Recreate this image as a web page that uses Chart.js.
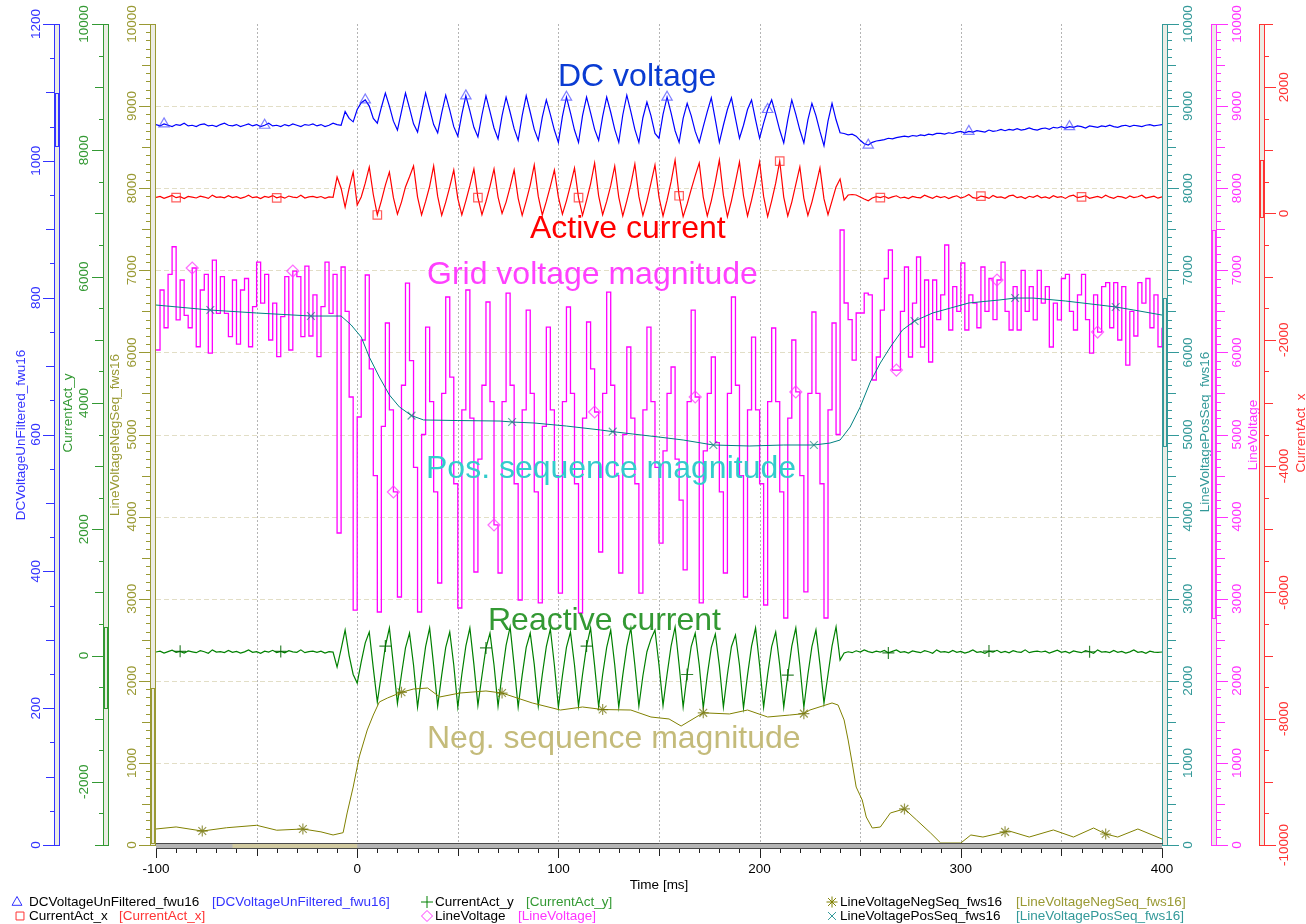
<!DOCTYPE html>
<html>
<head>
<meta charset="utf-8">
<title>Scope recording</title>
<script src="https://cdn.jsdelivr.net/npm/chart.js@4.4.1/dist/chart.umd.min.js"></script>
<style>
  html, body { margin: 0; padding: 0; background: #fff; }
  canvas { display: block; }
</style>
</head>
<body>
<canvas id="scope" width="1306" height="924"></canvas>
<script>
// recorder sample clock, 2 ms
const timeMs = [];
for (let t = -100; t <= 400; t += 2) timeMs.push(t);

// DCVoltageUnFiltered_fwu16 [V]
const dcVoltage = [
  1053,1051,1054,1052,1050,1053,1052,1055,1051,1052,
  1050,1053,1054,1051,1052,1050,1053,1055,1052,1051,
  1053,1050,1052,1054,1051,1053,1050,1052,1055,1051,
  1052,1050,1053,1051,1054,1052,1050,1053,1052,1054,
  1051,1053,1050,1052,1055,1053,1052,1072,1062,1057,
  1075,1085,1089,1080,1062,1055,1078,1099,1080,1058,
  1045,1072,1099,1077,1054,1042,1071,1099,1076,1053,
  1041,1070,1096,1074,1050,1036,1068,1095,1073,1049,
  1035,1067,1095,1072,1048,1032,1066,1093,1071,1047,
  1030,1066,1095,1071,1046,1030,1064,1089,1068,1045,
  1027,1065,1093,1070,1045,1027,1066,1093,1070,1046,
  1030,1065,1093,1071,1046,1027,1067,1096,1072,1046,
  1027,1063,1086,1066,1040,1033,1068,1093,1070,1044,
  1027,1062,1084,1066,1043,1027,1050,1072,1092,1060,
  1027,1052,1075,1092,1062,1033,1052,1075,1089,1060,
  1033,1055,1075,1089,1068,1045,1026,1060,1089,1068,
  1045,1026,1060,1084,1066,1043,1022,1058,1084,1060,
  1041,1040,1038,1039,1036,1030,1025,1023,1027,1029,
  1030,1031,1033,1032,1034,1035,1036,1035,1037,1036,
  1038,1037,1039,1038,1040,1040,1039,1041,1040,1042,
  1043,1041,1043,1042,1044,1043,1042,1045,1043,1044,
  1046,1044,1046,1045,1047,1045,1046,1048,1046,1045,
  1047,1048,1046,1049,1048,1050,1048,1050,1049,1051,
  1050,1048,1051,1050,1049,1051,1050,1052,1050,1049,
  1051,1052,1050,1052,1051,1050,1052,1053,1051,1052,
  1053
];

// CurrentAct_x (active current)
const currentActX = [
  255,270,240,262,285,250,265,235,270,258,
  245,275,260,238,290,255,262,248,280,252,
  266,240,258,288,250,262,236,270,255,283,
  248,265,242,276,258,250,290,245,262,270,
  250,268,240,262,255,577,400,102,400,656,
  134,261,480,735,300,-24,200,450,656,250,
  -10,180,420,580,751,260,-24,190,430,751,
  270,-30,180,420,688,240,-24,200,440,704,
  250,-20,190,430,704,260,0,180,420,688,
  240,-30,200,450,767,270,-24,190,430,688,
  260,-10,200,450,720,250,-30,210,470,799,
  280,-20,190,440,751,260,-40,200,460,783,
  270,-30,200,480,767,260,-40,210,500,846,
  280,-50,150,380,600,799,260,-40,200,500,
  846,290,-50,200,500,815,280,-40,210,500,
  815,270,-50,200,480,830,260,-40,180,460,
  736,240,-30,180,440,720,230,-20,200,420,
  546,213,292,300,292,262,230,200,245,265,
  250,272,240,262,280,245,258,236,270,255,
  248,290,262,240,275,250,268,235,262,280,
  245,265,300,250,240,275,262,238,285,255,
  262,240,278,290,250,265,236,272,255,285,
  248,262,240,280,256,268,238,275,290,250,
  262,280,240,255,270,246,288,258,240,272,
  262,238,276,250,265,290,245,260,275,242,
  262
];

// CurrentAct_y (reactive current)
const currentActY = [
  56,70,40,62,85,50,66,38,72,58,
  45,78,60,36,90,55,62,48,80,52,
  66,40,58,88,50,62,36,70,55,83,
  48,65,42,76,58,50,90,45,62,70,
  50,68,40,62,55,-182,100,404,0,-300,
  -435,-100,200,372,-200,-736,-300,150,436,-150,
  -760,-300,120,356,-150,-815,-320,140,436,-160,
  -800,-310,130,372,-150,-815,-300,150,436,-140,
  -790,-320,120,356,-150,-800,-300,160,452,-160,
  -815,-310,130,356,-140,-800,-300,140,420,-150,
  -815,-320,130,372,-150,-800,-300,150,436,-160,
  -810,-300,130,404,-150,-815,-310,140,436,-150,
  -800,-320,60,260,404,-150,-790,-300,150,452,
  -150,-815,-300,140,356,-150,-831,-310,130,340,
  -160,-815,-300,140,325,-150,-831,-310,150,436,
  -150,-820,-300,140,372,-150,-815,-310,150,436,
  -150,-820,-300,140,404,-140,-752,-300,150,452,
  -71,40,60,45,75,55,90,62,48,70,
  56,80,42,66,88,50,62,38,72,58,
  45,78,60,36,90,55,62,48,80,52,
  66,40,58,88,50,62,36,70,55,83,
  48,65,42,76,58,50,90,45,62,70,
  56,70,40,62,85,50,66,38,72,58,
  45,78,60,36,90,55,62,48,80,52,
  66,40,58,88,50,62,36,70,55,50,
  56
];

// LineVoltage (grid voltage magnitude)
const lineVoltage = [
  6029,6760,6300,6950,7287,6395,6882,6450,6300,7028,
  6069,6760,6950,5990,7125,6476,6922,6476,6191,6882,
  6100,6760,6900,6069,6557,7100,6600,6950,6151,6600,
  5948,6435,6922,6029,6991,6922,6191,7050,6200,6700,
  5948,6557,7100,6476,6950,3800,7040,6500,5457,2862,
  5213,6151,6943,5800,4500,2838,5100,6358,5300,4300,
  3021,5600,6845,5900,4600,2838,5000,6309,5400,4300,
  3191,5500,6675,5700,4400,2887,5300,6760,5200,3325,
  4700,5600,6614,5400,3898,3313,5400,6723,5600,4400,
  2984,5300,6516,5500,4300,2948,5100,6309,5300,4500,
  3069,5400,6553,5500,4400,2826,5200,6370,5800,5274,
  3569,5500,6735,5600,4500,3313,5000,6066,5200,4400,
  3069,5300,6309,5400,4600,3678,4800,5500,5822,4700,
  4200,3350,5400,6516,5457,2948,4800,5500,5944,4900,
  4300,3313,5500,6675,5600,4500,3021,5300,6187,5300,
  4400,2923,5400,6297,5400,4300,2765,5200,6151,5518,
  4500,3082,5500,6492,5500,4400,2765,5300,6358,5000,
  7491,6602,6400,5907,6480,6480,6723,6700,5664,5944,
  6516,6900,7247,5785,5785,6500,7040,5944,6600,7162,
  6066,6882,5883,6882,6400,6700,7308,6273,6800,6500,
  7089,6273,6700,6602,6300,7040,6500,6900,6400,6882,
  7100,6500,6273,6800,6273,7000,6500,6800,6395,7000,
  6600,6800,6066,6600,6395,6900,6950,6500,6273,6700,
  6950,6400,5992,6700,6248,6800,6850,6300,6850,6151,
  6800,5846,6500,6200,6850,6600,6900,6300,6700,6069,
  6300
];

// LineVoltagePosSeq_fws16
const posSeqTime = [-100,-73,-50,-23,-8,-3,2,6,11,16,21,27,33,50,71,77,88,104,121,127,137,150,162,177,195,212,227,235,240,245,250,255,260,265,271,277,286,295,304,319,327,336,352,369,377,386,400];
const posSeq = [6577,6516,6480,6443,6443,6334,6187,5944,5700,5481,5335,5230,5177,5170,5164,5152,5140,5103,5055,5035,5006,4969,4933,4872,4860,4872,4872,4896,4933,5091,5335,5639,5871,6066,6273,6382,6480,6541,6602,6638,6662,6662,6626,6577,6553,6516,6455];

// LineVoltageNegSeq_fws16
const negSeqTime = [-100,-90,-77,-65,-50,-40,-27,-18,-12,-7,-5,-2,1,5,8,11,15,22,28,35,41,51,64,72,87,101,112,122,136,146,155,161,172,185,194,204,215,222,225,236,239,242,244,246,248,251,253,256,260,265,272,278,285,290,300,305,311,322,324,334,346,356,366,372,378,388,400];
const negSeq = [195,220,170,210,240,180,195,160,122,150,390,706,1072,1401,1583,1742,1790,1860,1900,1912,1803,1851,1876,1851,1730,1644,1681,1650,1644,1559,1535,1449,1610,1596,1644,1559,1583,1600,1644,1730,1705,1523,1279,999,706,548,341,207,219,390,440,305,146,24,24,122,97,160,171,97,183,97,207,134,97,195,73];

// marker positions [ms]
const markDc = [-96, -46, 4, 54, 104, 154, 204, 254, 304, 354];
const markIx = [-90, -40, 10, 60, 110, 160, 210, 260, 310, 360];
const markIy = [-88, -38, 14, 64, 114, 164, 214, 264, 314, 364];
const markLv = [-82, -32, 18, 68, 118, 168, 218, 268, 318, 368];
const markNeg = [-77, -27, 22, 72, 122, 172, 222, 272, 322, 372];
const markPos = [-73, -23, 27, 77, 127, 177, 227, 277, 327, 377];

const xTicks = [-100, 0, 100, 200, 300, 400];

const TICK_FONT = '13.5px "Liberation Sans", Arial, sans-serif';
const NOTE_FONT = '32px "Liberation Sans", Arial, sans-serif';

const yAxes = [
  { id: 'yDc', side: 'left', x: 54, color: '#3333ff', minor: 50, mid: 100, major: 200, labelX: 36.5, titleX: 21, titleY: 435, title: 'DCVoltageUnFiltered_fwu16', data: dcVoltage },
  { id: 'yIy', side: 'left', x: 103, color: '#339933', minor: 500, mid: 1000, major: 2000, labelX: 84, titleX: 68, titleY: 413, title: 'CurrentAct_y', data: currentActY },
  { id: 'yNeg', side: 'left', x: 150, color: '#999933', minor: 100, mid: 500, major: 1000, labelX: 132.5, titleX: 115, titleY: 435, title: 'LineVoltageNegSeq_fws16', data: negSeq },
  { id: 'yPos', side: 'right', x: 1162, color: '#339999', minor: 100, mid: 500, major: 1000, labelX: 1188, titleX: 1205, titleY: 432, title: 'LineVoltagePosSeq_fws16', data: posSeq },
  { id: 'yLv', side: 'right', x: 1211, color: '#ff33ff', minor: 100, mid: 500, major: 1000, labelX: 1237, titleX: 1253, titleY: 435, title: 'LineVoltage', data: lineVoltage },
  { id: 'yIx', side: 'right', x: 1259, color: '#ff3333', minor: 500, mid: 1000, major: 2000, labelX: 1284.5, titleX: 1301, titleY: 433, title: 'CurrentAct_x', data: currentActX }
];

const notes = [
  { text: 'DC voltage', x: 558, y: 86, color: '#0a3cd2' },
  { text: 'Active current', x: 530, y: 238, color: '#ff0000' },
  { text: 'Grid voltage magnitude', x: 427, y: 284, color: '#ff40ff' },
  { text: 'Pos. sequence magnitude', x: 426, y: 478, color: '#33cccc' },
  { text: 'Reactive current', x: 488, y: 630, color: '#339933' },
  { text: 'Neg. sequence magnitude', x: 427, y: 748, color: '#c4bb7a' }
];

const legendItems = [
  { style: 'triangle', mark: '#3333ff', name: 'DCVoltageUnFiltered_fwu16', x: 17, y: 902, tx: 29, bx: 212, color: '#3333ff' },
  { style: 'cross', mark: '#008000', name: 'CurrentAct_y', x: 427, y: 902, tx: 435, bx: 526, color: '#339933' },
  { style: 'star', mark: '#808000', name: 'LineVoltageNegSeq_fws16', x: 832, y: 902, tx: 840, bx: 1016, color: '#999933' },
  { style: 'rect', mark: '#ff3333', name: 'CurrentAct_x', x: 20, y: 916, tx: 29, bx: 119, color: '#ff3333' },
  { style: 'rectRot', mark: '#ff33ff', name: 'LineVoltage', x: 427, y: 916, tx: 435, bx: 518, color: '#ff33ff' },
  { style: 'crossRot', mark: '#339999', name: 'LineVoltagePosSeq_fws16', x: 832, y: 916, tx: 840, bx: 1016, color: '#339999' }
];

function series(times, values) {
  return times.map((t, i) => ({ x: t, y: values[i] }));
}

function markAt(list, r) {
  return (ctx) => (ctx.raw && list.includes(ctx.raw.x)) ? r : 0;
}

function rotText(ctx, text, x, y) {
  ctx.save();
  ctx.translate(x, y);
  ctx.rotate(-Math.PI / 2);
  ctx.fillText(text, 0, 0);
  ctx.restore();
}

function drawMark(ctx, style, x, y, r) {
  const d = r * 0.72;
  ctx.beginPath();
  if (style === 'triangle') {
    ctx.moveTo(x, y - r); ctx.lineTo(x + r * 0.9, y + r * 0.6); ctx.lineTo(x - r * 0.9, y + r * 0.6); ctx.closePath();
  } else if (style === 'rect') {
    ctx.rect(x - d, y - d, 2 * d, 2 * d);
  } else if (style === 'rectRot') {
    ctx.moveTo(x, y - r); ctx.lineTo(x + r, y); ctx.lineTo(x, y + r); ctx.lineTo(x - r, y); ctx.closePath();
  } else {
    if (style !== 'crossRot') {
      ctx.moveTo(x - r, y); ctx.lineTo(x + r, y); ctx.moveTo(x, y - r); ctx.lineTo(x, y + r);
    }
    if (style !== 'cross') {
      ctx.moveTo(x - d, y - d); ctx.lineTo(x + d, y + d); ctx.moveTo(x + d, y - d); ctx.lineTo(x - d, y + d);
    }
  }
  ctx.stroke();
}

function drawYAxis(ctx, chart, ax) {
  const sc = chart.scales[ax.id];
  const top = chart.chartArea.top, bottom = chart.chartArea.bottom;
  const dir = ax.side === 'left' ? -1 : 1;
  const edge = ax.side === 'left' ? ax.x : ax.x + 6;
  ctx.save();
  ctx.fillStyle = '#ececE4';
  ctx.fillRect(ax.x, top, 6, bottom - top);
  ctx.strokeStyle = ax.color;
  ctx.lineWidth = 1;
  ctx.strokeRect(ax.x + 0.5, top + 0.5, 5, bottom - top);
  // data range indicator
  const yHi = Math.round(sc.getPixelForValue(Math.max(...ax.data)));
  const yLo = Math.round(sc.getPixelForValue(Math.min(...ax.data)));
  ctx.strokeRect(ax.x + 1.5, yHi + 0.5, 3, yLo - yHi);
  ctx.beginPath();
  for (let v = Math.ceil(sc.min / ax.minor) * ax.minor; v <= sc.max; v += ax.minor) {
    const y = Math.round(sc.getPixelForValue(v)) + 0.5;
    const len = v % ax.major === 0 ? 11 : (v % ax.mid === 0 ? 8 : 4);
    ctx.moveTo(edge, y);
    ctx.lineTo(edge + dir * len, y);
  }
  ctx.stroke();
  ctx.fillStyle = ax.color;
  ctx.font = TICK_FONT;
  ctx.textAlign = 'center';
  ctx.textBaseline = 'middle';
  for (let v = Math.ceil(sc.min / ax.major) * ax.major; v <= sc.max; v += ax.major) {
    rotText(ctx, String(v), ax.labelX, sc.getPixelForValue(v));
  }
  rotText(ctx, ax.title, ax.titleX, ax.titleY);
  ctx.restore();
}

function drawXAxis(ctx, chart) {
  const xs = chart.scales.x;
  const { left, right, bottom } = chart.chartArea;
  ctx.save();
  ctx.fillStyle = '#b4b4b4';
  ctx.fillRect(left, bottom - 2, right - left, 6);
  ctx.fillStyle = '#d0c9a0';
  ctx.fillRect(xs.getPixelForValue(-62), bottom - 1, xs.getPixelForValue(0) - xs.getPixelForValue(-62), 4);
  ctx.strokeStyle = '#4a4a4a';
  ctx.lineWidth = 1;
  ctx.beginPath();
  ctx.moveTo(left, bottom - 1.5); ctx.lineTo(right + 1, bottom - 1.5);
  ctx.moveTo(left, bottom + 3.5); ctx.lineTo(right + 1, bottom + 3.5);
  ctx.stroke();
  ctx.strokeStyle = '#222';
  ctx.beginPath();
  for (let t = xs.min; t <= xs.max; t += 10) {
    const x = Math.round(xs.getPixelForValue(t)) + 0.5;
    const len = t % 100 === 0 ? 9 : (t % 50 === 0 ? 7 : 4);
    ctx.moveTo(x, bottom + 4);
    ctx.lineTo(x, bottom + 4 + len);
  }
  ctx.stroke();
  ctx.fillStyle = '#000';
  ctx.font = TICK_FONT;
  ctx.textAlign = 'center';
  ctx.textBaseline = 'middle';
  xTicks.forEach(t => ctx.fillText(String(t), xs.getPixelForValue(t), 869));
  ctx.fillText('Time [ms]', (left + right) / 2, 885);
  ctx.restore();
}

function drawLegend(ctx) {
  ctx.save();
  ctx.font = TICK_FONT;
  ctx.textBaseline = 'middle';
  ctx.textAlign = 'left';
  ctx.lineWidth = 1;
  legendItems.forEach(it => {
    ctx.strokeStyle = it.mark;
    drawMark(ctx, it.style, it.x, it.y, it.style === 'cross' ? 6 : 5.5);
    ctx.fillStyle = '#000';
    ctx.fillText(it.name, it.tx, it.y);
    ctx.fillStyle = it.color;
    ctx.fillText('[' + it.name + ']', it.bx, it.y);
  });
  ctx.restore();
}

const scopeFrame = {
  id: 'scopeFrame',
  beforeDatasetsDraw(chart) {
    const ctx = chart.ctx;
    const { left, right, top, bottom } = chart.chartArea;
    const xs = chart.scales.x, yg = chart.scales.yNeg;
    ctx.save();
    ctx.lineWidth = 1;
    ctx.strokeStyle = '#e2dec6';
    ctx.setLineDash([5, 3]);
    ctx.beginPath();
    for (let v = 1000; v < 10000; v += 1000) {
      const y = Math.round(yg.getPixelForValue(v)) + 0.5;
      ctx.moveTo(left, y); ctx.lineTo(right, y);
    }
    ctx.stroke();
    ctx.strokeStyle = '#b4b4b4';
    ctx.setLineDash([2, 2]);
    ctx.beginPath();
    for (let t = -50; t < 400; t += 50) {
      const x = Math.round(xs.getPixelForValue(t)) + 0.5;
      ctx.moveTo(x, top); ctx.lineTo(x, bottom - 2);
    }
    ctx.stroke();
    ctx.restore();
  },
  afterDatasetsDraw(chart) {
    const ctx = chart.ctx;
    ctx.save();
    ctx.font = NOTE_FONT;
    ctx.textAlign = 'left';
    ctx.textBaseline = 'alphabetic';
    notes.forEach(n => { ctx.fillStyle = n.color; ctx.fillText(n.text, n.x, n.y); });
    ctx.restore();
    yAxes.forEach(ax => drawYAxis(ctx, chart, ax));
    drawXAxis(ctx, chart);
    drawLegend(ctx);
  }
};

function trace(label, data, axis, color, markColor, style, marks, stepped, r, width) {
  return {
    label: label,
    data: data,
    yAxisID: axis,
    borderColor: color,
    borderWidth: width || 1,
    stepped: stepped,
    tension: 0,
    pointStyle: style,
    pointRadius: markAt(marks, r || 5.5),
    pointHoverRadius: 0,
    pointBorderColor: markColor,
    pointBackgroundColor: 'rgba(0,0,0,0)',
    pointBorderWidth: 1.2
  };
}

const datasets = [
  trace('LineVoltagePosSeq_fws16', series(posSeqTime, posSeq), 'yPos', '#008080', 'rgba(0,110,110,0.6)', 'crossRot', markPos, false),
  trace('LineVoltageNegSeq_fws16', series(negSeqTime, negSeq), 'yNeg', '#808000', 'rgba(110,110,0,0.7)', 'star', markNeg, false),
  trace('DCVoltageUnFiltered_fwu16', series(timeMs, dcVoltage), 'yDc', '#0000ff', 'rgba(60,60,255,0.65)', 'triangle', markDc, false, 6, 1.2),
  trace('CurrentAct_x', series(timeMs, currentActX), 'yIx', '#ff0000', 'rgba(255,40,40,0.75)', 'rect', markIx, false, 6, 1.2),
  trace('CurrentAct_y', series(timeMs, currentActY), 'yIy', '#008000', 'rgba(0,100,0,0.8)', 'cross', markIy, false, 6, 1.2),
  trace('LineVoltage', series(timeMs, lineVoltage), 'yLv', '#ff00ff', 'rgba(255,60,255,0.75)', 'rectRot', markLv, true, 6, 1.3)
];

const hidden = (min, max) => ({ type: 'linear', min: min, max: max, display: false });

new Chart(document.getElementById('scope'), {
  type: 'line',
  data: { datasets: datasets },
  options: {
    responsive: false,
    devicePixelRatio: 1,
    animation: false,
    events: [],
    layout: { padding: { left: 156, right: 144, top: 24, bottom: 79 } },
    plugins: { legend: { display: false }, tooltip: { enabled: false } },
    scales: {
      x: hidden(-100, 400),
      yDc: hidden(0, 1200),
      yIy: hidden(-3000, 10000),
      yNeg: hidden(0, 10000),
      yPos: hidden(0, 10000),
      yLv: hidden(0, 10000),
      yIx: hidden(-10000, 3000)
    }
  },
  plugins: [scopeFrame]
});
</script>
</body>
</html>
